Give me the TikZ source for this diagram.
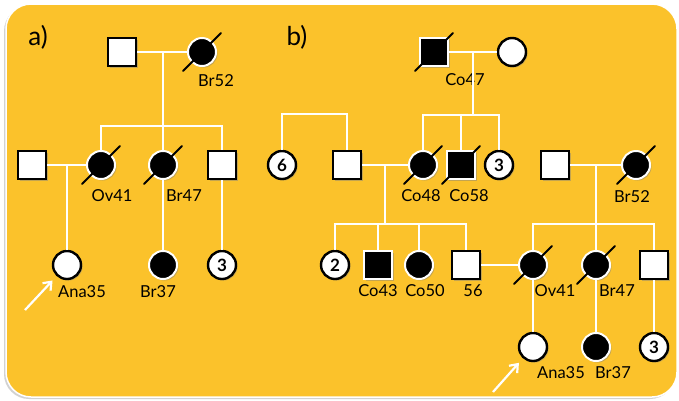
\documentclass[tikz,border=0pt]{standalone}
\usepackage{fontspec}
\setmainfont{Lato}
\usetikzlibrary{shadows,arrows.meta}
\definecolor{pedyellow}{RGB}{251,194,43}
\tikzset{
  male/.style={rectangle,draw=black,fill=white,line width=2.4pt,minimum size=28pt,inner sep=0pt,
    drop shadow={opacity=0.45,shadow xshift=1.5pt,shadow yshift=-1.5pt}},
  female/.style={male,circle},
  amale/.style={male,fill=black,draw=white,line width=2pt},
  afemale/.style={female,fill=black,draw=white,line width=2pt},
  sibs/.style={female,font=\bfseries\fontsize{17}{17}\selectfont},
  link/.style={draw=white,line width=2.3pt},
  lbl/.style={font=\fontsize{16.5}{18}\selectfont,inner sep=0pt},
  pointer/.style={draw=white,line width=2.2pt,-{Straight Barb[length=7pt,width=11pt]},shorten >=6pt},
  slash/.style={draw=black,line width=1.8pt,line cap=round},
}
\newcommand{\dec}[1]{\draw[slash] ([shift={(-19,19)}]#1.center) -- ([shift={(19,-19)}]#1.center);}

\begin{document}
\begin{tikzpicture}[x=1pt,y=-1pt]
  \useasboundingbox (0,0) rectangle (679,400);
  \fill[white] (0,0) rectangle (679,400);
  \draw[fill=pedyellow,draw=white,line width=1.5pt,rounded corners=25pt,
    drop shadow={opacity=0.35,shadow xshift=-2pt,shadow yshift=-2pt}] (6,4) rectangle (677,397);

  \node[font=\fontsize{26}{28}\selectfont] (alab) at (38,37) {a)};
  \node[font=\fontsize{26}{28}\selectfont] (blab) at (297,37) {b)};

  % a) grandparents
  \node[male] (aGf) at (122,52) {};
  \node[afemale] (aGm) at (202,52) {}; \dec{aGm}
  \node[lbl] (aGml) at (216,81) {Br52};
  \coordinate (aMar) at (163,52);
  \coordinate (aSib) at (163,126);

  % a) parents
  \node[male] (aH) at (32,165) {};
  \node[afemale] (aOv) at (101,165) {}; \dec{aOv}
  \node[afemale] (aBr) at (163,165) {}; \dec{aBr}
  \node[male] (aS) at (222,165) {};
  \node[lbl] (aOvl) at (112,196) {Ov41};
  \node[lbl] (aBrl) at (184,196) {Br47};
  \coordinate (aMar2) at (67,165);

  % a) children
  \node[female] (aAna) at (67,265) {};
  \node[afemale] (aBr37) at (163,265) {};
  \node[sibs] (a3) at (222,265) {3};
  \node[lbl] (aAnal) at (82,292) {Ana35};
  \node[lbl] (aBr37l) at (158,292) {Br37};
  \coordinate (aArr) at (25,310);

  \draw[link] (aGf) -- (aGm);
  \draw[link] (aMar) -- (aSib);
  \draw[link] (aOv) |- (aSib) -| (aS);
  \draw[link] (aSib) -- (aBr);
  \draw[link] (aH) -- (aOv);
  \draw[link] (aMar2) -- (aAna);
  \draw[link] (aBr) -- (aBr37);
  \draw[link] (aS) -- (a3);
  \draw[pointer] (aArr) -- (aAna);

  % b) grandparents
  \node[amale] (bGf) at (434,52) {}; \dec{bGf}
  \node[lbl] (bGfl) at (465,80) {Co47};
  \node[female] (bGm) at (512,52) {};
  \coordinate (bMar) at (473,52);
  \coordinate (bSib) at (473,115);

  % b) parents
  \node[sibs] (b6) at (282,165) {6};
  \node[male] (bH) at (347,165) {};
  \node[afemale] (bCo48) at (423,165) {}; \dec{bCo48}
  \node[amale] (bCo58) at (461,165) {}; \dec{bCo58}
  \node[sibs] (b3) at (499,165) {3};
  \node[lbl] (bCo48l) at (421,196) {Co48};
  \node[lbl] (bCo58l) at (469,196) {Co58};
  \coordinate (bSib0) at (315,114);
  \coordinate (bMar2) at (385,165);
  \coordinate (bSib2) at (385,224);

  \node[male] (bGf2) at (555,165) {};
  \node[afemale] (bGm2) at (636,165) {}; \dec{bGm2}
  \node[lbl] (bGm2l) at (632,197) {Br52};
  \coordinate (bMar3) at (596,165);
  \coordinate (bSib3) at (596,224);

  % b) children
  \node[sibs] (b2) at (335,265) {2};
  \node[amale] (bCo43) at (378,265) {};
  \node[afemale] (bCo50) at (419,265) {};
  \node[male] (b56) at (466,265) {};
  \node[lbl] (bCo43l) at (378,291) {Co43};
  \node[lbl] (bCo50l) at (425,291) {Co50};
  \node[lbl] (b56l) at (473,291) {56};
  \node[afemale] (bOv) at (533,265) {}; \dec{bOv}
  \node[afemale] (bBr47) at (596,265) {}; \dec{bBr47}
  \node[male] (bS) at (654,265) {};
  \node[lbl] (bOvl) at (555,291) {Ov41};
  \node[lbl] (bBr47l) at (617,291) {Br47};

  % b) grandchildren
  \node[female] (bAna) at (533,347) {};
  \node[afemale] (bBr37) at (596,347) {};
  \node[sibs] (b3b) at (654,347) {3};
  \node[lbl] (bAnal) at (561,373) {Ana35};
  \node[lbl] (bBr37l) at (613,373) {Br37};
  \coordinate (bArr) at (493,392);

  \draw[link] (bGf) -- (bGm);
  \draw[link] (bMar) -- (bSib);
  \draw[link] (bCo48) |- (bSib) -| (b3);
  \draw[link] (bCo58) -- (bCo58 |- bSib);
  \draw[link] (b6) |- (bSib0) -| (bH);
  \draw[link] (bH) -- (bCo48);
  \draw[link] (bMar2) -- (bSib2);
  \draw[link] (b2) |- (bSib2) -| (b56);
  \draw[link] (bCo43) -- (bCo43 |- bSib2);
  \draw[link] (bCo50) -- (bCo50 |- bSib2);
  \draw[link] (bGf2) -- (bGm2);
  \draw[link] (bMar3) -- (bSib3);
  \draw[link] (bOv) |- (bSib3) -| (bS);
  \draw[link] (bSib3) -- (bBr47);
  \draw[link] (b56) -- (bOv);
  \draw[link] (bOv) -- (bAna);
  \draw[link] (bBr47) -- (bBr37);
  \draw[link] (bS) -- (b3b);
  \draw[pointer] (bArr) -- (bAna);
\end{tikzpicture}
\end{document}
